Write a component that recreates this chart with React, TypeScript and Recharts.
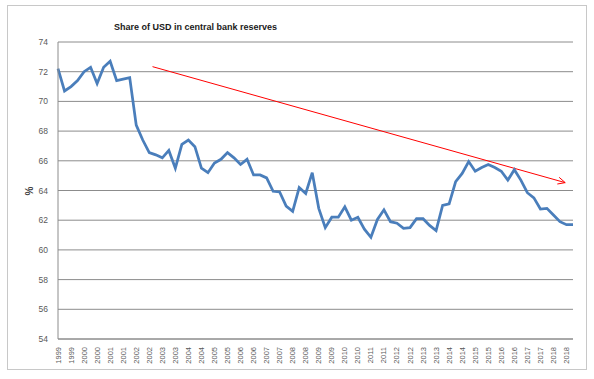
import React from 'react';
import { LineChart, Line, XAxis, YAxis, CartesianGrid, ReferenceLine } from 'recharts';

// quarterly share of USD, 1999 Q1 .. 2018 Q4
const usdShare: number[] = [
  72.2, 70.7, 71.0, 71.4, 72.0, 72.3, 71.2, 72.3, 72.7, 71.4,
  71.5, 71.6, 68.4, 67.4, 66.55, 66.4, 66.2, 66.7, 65.5, 67.1,
  67.4, 66.95, 65.5, 65.2, 65.85, 66.1, 66.55, 66.2, 65.75, 66.1,
  65.05, 65.05, 64.85, 63.95, 63.9, 62.95, 62.6, 64.2, 63.8, 65.2,
  62.8, 61.5, 62.2, 62.2, 62.9, 62.0, 62.2, 61.4, 60.85, 62.05,
  62.7, 61.9, 61.8, 61.45, 61.5, 62.1, 62.1, 61.65, 61.3, 63.0,
  63.1, 64.6, 65.15, 65.95, 65.3, 65.55, 65.75, 65.55, 65.3, 64.7,
  65.4, 64.7, 63.85, 63.5, 62.75, 62.8, 62.35, 61.9, 61.7, 61.7,
];

// one label every second quarter
const tickLabels: string[] = [
  '1999', '1999', '2000', '2000', '2001', '2001', '2002', '2002', '2003', '2003',
  '2004', '2004', '2005', '2005', '2006', '2006', '2007', '2007', '2008', '2008',
  '2009', '2009', '2010', '2010', '2011', '2011', '2012', '2012', '2013', '2013',
  '2014', '2014', '2015', '2015', '2016', '2016', '2017', '2017', '2018', '2018',
];

const yTicks: number[] = [54, 56, 58, 60, 62, 64, 66, 68, 70, 72, 74];

// hand-drawn trend arrow (quarter index, %)
const trendStart = { x: 14.5, y: 72.34 };
const trendEnd = { x: 77.8, y: 64.53 };

const data = usdShare.map((v, i) => ({ q: i, usd: v }));
const xTicks = tickLabels.map((_, i) => i * 2);

const FONT = '"Liberation Sans", Arial, sans-serif';

const XTick = (props: any) => {
  const { x, y, payload } = props;
  const label = tickLabels[payload.value / 2];
  return (
    <text
      transform={`translate(${x + 2.5},${y + 6}) rotate(-90)`}
      textAnchor="end"
      fontSize={7.5}
      fill="#595959"
      fontFamily={FONT}
    >
      {label}
    </text>
  );
};

const TrendArrow = (p: any) => {
  const { x1, y1, x2, y2 } = p;
  const ang = Math.atan2(y2 - y1, x2 - x1);
  const len = 8;
  const spread = 0.45;
  const ax = x2 - len * Math.cos(ang - spread);
  const ay = y2 - len * Math.sin(ang - spread);
  const bx = x2 - len * Math.cos(ang + spread);
  const by = y2 - len * Math.sin(ang + spread);
  return (
    <g>
      <line x1={x1} y1={y1} x2={x2} y2={y2} stroke="#ff0000" strokeWidth={1} />
      <polyline points={`${ax},${ay} ${x2},${y2} ${bx},${by}`} fill="none" stroke="#ff0000" strokeWidth={1} />
    </g>
  );
};

const App: React.FC = () => {
  return (
    <div style={{ position: 'relative', width: 594, height: 379, background: '#fff', fontFamily: FONT }}>
      <style>{'body{margin:0}'}</style>
      <div
        style={{
          position: 'absolute', left: 7, top: 5, width: 578, height: 363,
          border: '1px solid #c8c8c8',
        }}
      />
      <div
        style={{
          position: 'absolute', left: 0, width: 386, top: 22, textAlign: 'center',
          fontSize: 9, fontWeight: 'bold', color: '#1a1a1a', whiteSpace: 'nowrap', paddingLeft: 0,
        }}
      >
        <span style={{ position: 'absolute', left: 114 }}>Share of USD in central bank reserves</span>
      </div>
      <div
        style={{
          position: 'absolute', left: 24, top: 185, width: 12, height: 12, lineHeight: '12px',
          textAlign: 'center', fontSize: 10, fontWeight: 'bold', color: '#404040',
          transform: 'rotate(-90deg)',
        }}
      >
        %
      </div>
      <div style={{ position: 'absolute', left: 0, top: 0 }}>
        <LineChart width={594} height={379} data={data} margin={{ top: 42, right: 21, bottom: 10, left: 8 }}>
          <CartesianGrid horizontal vertical={false} stroke="#8c8c8c" />
          <XAxis
            dataKey="q"
            type="number"
            domain={[0, 79]}
            ticks={xTicks}
            interval={0}
            tick={<XTick />}
            tickLine={false}
            tickSize={0}
            height={30}
            axisLine={{ stroke: '#8c8c8c' }}
          />
          <YAxis
            domain={[54, 74]}
            ticks={yTicks}
            interval={0}
            width={50}
            tickLine={false}
            tickSize={0}
            tickMargin={10}
            axisLine={{ stroke: '#8c8c8c' }}
            tick={{ fontSize: 8.5, fill: '#595959', fontFamily: FONT }}
          />
          <ReferenceLine
            segment={[trendStart, trendEnd]}
            stroke="#ff0000"
            shape={<TrendArrow />}
          />
          <Line
            type="linear"
            dataKey="usd"
            stroke="#4a7ebb"
            strokeWidth={2.75}
            dot={false}
            isAnimationActive={false}
          />
        </LineChart>
      </div>
    </div>
  );
};

export default App;
